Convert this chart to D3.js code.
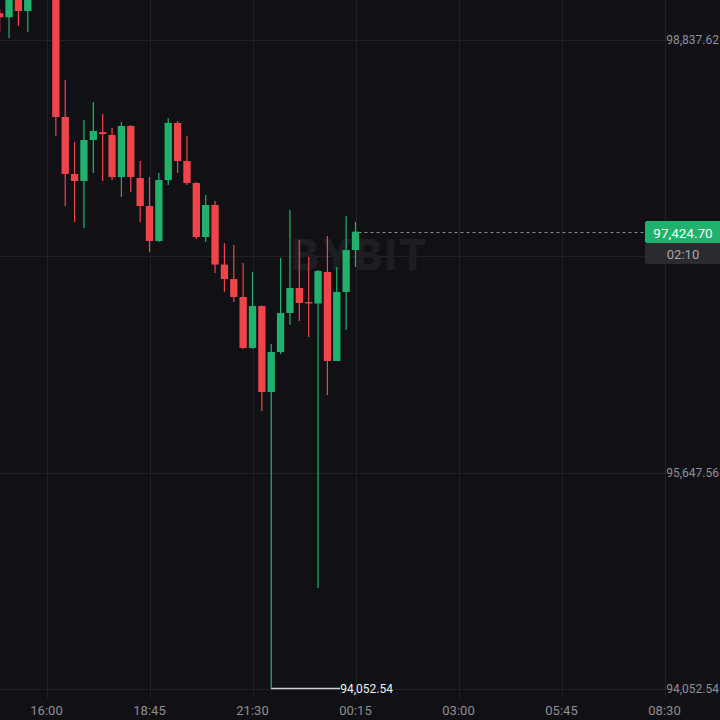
<!DOCTYPE html>
<html>
<head>
<meta charset="utf-8">
<script src="https://cdn.jsdelivr.net/npm/d3@7"></script>
<style>
html,body{margin:0;padding:0;background:#111115;}
svg{display:block;}
</style>
</head>
<body>
<svg id="chart" width="720" height="720"></svg>
<script>
// ---- Data (15-minute candles) ----
const times = ["14:45","15:00","15:15","15:30","15:45","16:00","16:15","16:30","16:45","17:00",
  "17:15","17:30","17:45","18:00","18:15","18:30","18:45","19:00","19:15","19:30",
  "19:45","20:00","20:15","20:30","20:45","21:00","21:15","21:30","21:45","22:00",
  "22:15","22:30","22:45","23:00","23:15","23:30","23:45","00:00","00:15"];
const opens  = [99035,99005,99160,99051,99230,99380,99330,98270,97850,97798,
  98100,98159,98137,97827,98204,97820,97614,97356,97805,98226,
  97945,97783,97385,97621,97182,97075,96943,96567,96876,96242,
  96537,96825,97009,96905,96895,97127,96471,96980,97289];
const highs  = [99070,99190,99175,99260,99420,99450,99360,98543,98086,98248,
  98380,98292,98189,98233,98210,97945,97827,97857,98263,98240,
  98130,97790,97695,97651,97341,97326,97193,97126,96880,96596,
  97230,97584,97363,97238,97142,97392,97164,97540,97496];
const lows   = [98897,98852,98941,98897,99180,99300,98130,97614,97496,97451,
  97857,97798,97805,97680,97717,97496,97275,97348,97769,97857,
  97769,97370,97348,97120,96980,96906,96560,96560,96102,94052.54,
  96522,96736,96766,96648,94797,96220,96471,96699,97164];
const closes = [99005,99160,99051,99230,99380,99330,98270,97850,97798,98100,
  98167,98144,97827,98204,97827,97614,97356,97805,98226,97945,
  97783,97385,97621,97182,97075,96943,96567,96876,96242,96537,
  96825,97009,96899,96895,97134,96471,96980,97289,97424.70];

const priceTicks = [94052.54, 95647.56, 97242.59, 98837.62];
const timeTicks = ["16:00","18:45","21:30","00:15","03:00","05:45","08:30"];
const lastPrice = 97424.70;
const countdown = "02:10";
const lowPrice = 94052.54;

// ---- helpers ----
function toDate(str) {
  const [h, m] = str.split(":").map(Number);
  return h < 12 ? new Date(2025, 0, 2, h, m) : new Date(2025, 0, 1, h, m);
}
const candles = times.map((t, i) => ({
  t: toDate(t), o: opens[i], h: highs[i], l: lows[i], c: closes[i]
}));
const tickDates = timeTicks.map(toDate);

const W = 720, H = 720;
const svg = d3.select("#chart");
const bg = "#111115";
const green = "#20b26c";
const red = "#ef454a";
const gridColor = "#212125";
const fontFam = "Roboto, 'Noto Sans', sans-serif";

const x = d3.scaleTime()
  .domain([new Date(2025,0,1,16,0), new Date(2025,0,2,8,30)])
  .range([46.5, 664.5]);
const y = d3.scaleLinear()
  .domain([94052.54, 98837.62])
  .range([689, 40]);

svg.append("rect").attr("width", W).attr("height", H).attr("fill", bg);

// grid
const grid = svg.append("g");
grid.selectAll("line.v").data(tickDates).join("line")
  .attr("x1", d => Math.round(x(d)) + 0.5).attr("x2", d => Math.round(x(d)) + 0.5)
  .attr("y1", 0).attr("y2", 698)
  .attr("stroke", gridColor).attr("stroke-width", 1);
grid.selectAll("line.h").data(priceTicks).join("line")
  .attr("x1", 0).attr("x2", W)
  .attr("y1", d => Math.round(y(d)) + 0.5).attr("y2", d => Math.round(y(d)) + 0.5)
  .attr("stroke", gridColor).attr("stroke-width", 1);

// watermark
svg.append("text")
  .attr("x", 360).attr("y", 270)
  .attr("text-anchor", "middle")
  .attr("font-family", "Inter, Roboto, sans-serif")
  .attr("font-weight", 800)
  .attr("font-size", 42)
  .attr("letter-spacing", 2)
  .attr("fill", "#1d1d22")
  .text("BYBIT");

// candles
const step = x(new Date(2025,0,1,16,15)) - x(new Date(2025,0,1,16,0));
const bw = Math.max(1, step * 0.78);
const cg = svg.append("g");
cg.selectAll("line.wick").data(candles).join("line")
  .attr("x1", d => x(d.t)).attr("x2", d => x(d.t))
  .attr("y1", d => y(d.h)).attr("y2", d => y(d.l))
  .attr("stroke", d => d.c >= d.o ? green : red)
  .attr("stroke-width", 1.2);
cg.selectAll("rect.body").data(candles).join("rect")
  .attr("x", d => x(d.t) - bw / 2)
  .attr("width", bw)
  .attr("y", d => y(Math.max(d.o, d.c)))
  .attr("height", d => Math.max(1, Math.abs(y(d.o) - y(d.c))))
  .attr("fill", d => d.c >= d.o ? green : red);

// low marker
const lowCandle = candles.find(d => d.l === lowPrice);
const lx = x(lowCandle.t);
svg.append("line")
  .attr("x1", lx).attr("x2", lx + 69)
  .attr("y1", y(lowPrice) - 0.5).attr("y2", y(lowPrice) - 0.5)
  .attr("stroke", "#d0d0d0").attr("stroke-width", 1.5);
svg.append("text")
  .attr("x", lx + 69).attr("y", y(lowPrice) + 4)
  .attr("font-family", fontFam).attr("font-size", 12)
  .attr("fill", "#f0f0f0")
  .text(d3.format(",.2f")(lowPrice));

// last price
const lastCandle = candles[candles.length - 1];
const ly = Math.round(y(lastPrice)) + 0.5;
const badgeTop = ly - 11.5, badgeBottom = ly + 31.5;

// right axis labels (the one hidden under the price badge is not drawn)
svg.append("g").selectAll("text")
  .data(priceTicks.filter(d => y(d) < badgeTop - 6 || y(d) > badgeBottom + 6))
  .join("text")
  .attr("x", 719).attr("y", d => y(d) + 4)
  .attr("text-anchor", "end")
  .attr("font-family", fontFam).attr("font-size", 12)
  .attr("fill", "#8d8d92")
  .text(d => d3.format(",.2f")(d));

// time axis labels
svg.append("g").selectAll("text").data(tickDates).join("text")
  .attr("x", d => x(d)).attr("y", 715)
  .attr("text-anchor", "middle")
  .attr("font-family", fontFam).attr("font-size", 13)
  .attr("fill", "#8d8d92")
  .text((d, i) => timeTicks[i]);

// last price dashed line
svg.append("line")
  .attr("x1", x(lastCandle.t) + 3).attr("x2", 645)
  .attr("y1", ly).attr("y2", ly)
  .attr("stroke", "#8a8a8a").attr("stroke-width", 1)
  .attr("stroke-dasharray", "3,3");

// badges
svg.append("rect")
  .attr("x", 645).attr("y", badgeTop).attr("width", 80).attr("height", 22)
  .attr("rx", 2).attr("fill", green);
svg.append("text")
  .attr("x", 683).attr("y", ly + 5)
  .attr("text-anchor", "middle")
  .attr("font-family", fontFam).attr("font-size", 13.5)
  .attr("fill", "#ffffff")
  .text(d3.format(",.2f")(lastPrice));
svg.append("rect")
  .attr("x", 645).attr("y", ly + 10.5).attr("width", 80).attr("height", 21)
  .attr("rx", 2).attr("fill", "#2a2a2f");
svg.append("text")
  .attr("x", 683).attr("y", ly + 26)
  .attr("text-anchor", "middle")
  .attr("font-family", fontFam).attr("font-size", 13)
  .attr("fill", "#a8a8ad")
  .text(countdown);
</script>
</body>
</html>
